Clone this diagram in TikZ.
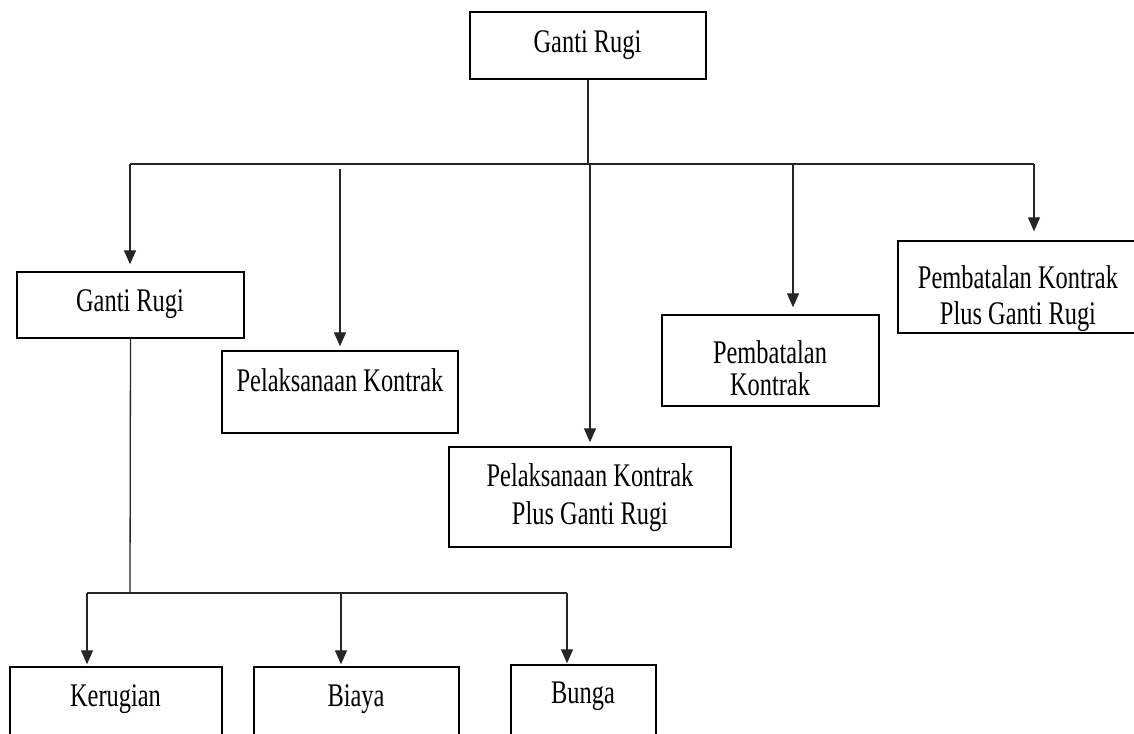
\documentclass[tikz,border=0pt]{standalone}
\usepackage{fontspec}
\setmainfont{Liberation Serif}[FakeStretch=0.74]
\usetikzlibrary{arrows.meta}
\begin{document}
\begin{tikzpicture}[x=0.5pt,y=-0.5pt,
  box/.style={draw, line width=0.7pt, rectangle, inner sep=0pt},
  lbl/.style={inner sep=0pt, align=center, font=\fontsize{16.5}{19}\selectfont},
  conn/.style={line width=0.65pt, draw=black!85},
  arr/.style={conn, -{Triangle[width=6pt,length=7pt]}}]
\useasboundingbox (0,0) rectangle (1134,733);
\clip (0,0) rectangle (1134,733);
\fill[white] (0,0) rectangle (1134,733);
% boxes
\node[box, minimum width=118pt, minimum height=33.5pt] (top) at (588,45.5) {};
\node[box, minimum width=113.5pt, minimum height=33pt] (gr) at (130.5,305) {};
\node[box, minimum width=118pt, minimum height=41pt] (pk) at (340,392) {};
\node[box, minimum width=141pt, minimum height=50pt] (pkp) at (590,497) {};
\node[box, minimum width=108.5pt, minimum height=45.5pt] (pb) at (770.5,360.5) {};
\node[box, minimum width=121pt, minimum height=46pt] (pbp) at (1019,287) {};
\node[box, minimum width=106pt, minimum height=50pt] (ker) at (116,717) {};
\node[box, minimum width=102.5pt, minimum height=50pt] (bia) at (356.5,717) {};
\node[box, minimum width=72.5pt, minimum height=50pt] (bun) at (583.5,715) {};
% texts
\node[lbl] (topT) at (587.5,45) {Ganti Rugi};
\node[lbl] (grT) at (130,304) {Ganti Rugi};
\node[lbl] (pkT) at (340,380) {Pelaksanaan Kontrak};
\node[lbl] (pkpT) at (590,498) {Pelaksanaan Kontrak\\Plus Ganti Rugi};
\node[lbl] (pbT) at (770,368) {Pembatalan\\[-3pt]Kontrak};
\node[lbl] (pbpT) at (1018,299) {Pembatalan Kontrak\\[-1pt]Plus Ganti Rugi};
\node[lbl] (kerT) at (115.5,699) {Kerugian};
\node[lbl] (biaT) at (356,699) {Biaya};
\node[lbl] (bunT) at (583,696) {Bunga};
% upper connectors
\coordinate (j0) at (588,164);
\coordinate (hl) at (130,164);
\coordinate (hr) at (1034,164);
\coordinate (a2) at (340,169);
\coordinate (a3) at (590,164);
\coordinate (a4) at (793,164);
\draw[conn] (top.south) -- (j0);
\draw[conn] (hl) -- (hr);
\draw[arr, shorten >=3.5pt] (hl) -- (hl |- gr.north);
\draw[arr, shorten >=2pt] (a2) -- (a2 |- pk.north);
\draw[arr, shorten >=2pt] (a3) -- (a3 |- pkp.north);
\draw[arr, shorten >=3.5pt] (a4) -- (a4 |- pb.north);
\draw[arr, shorten >=4.5pt] (hr) -- (hr |- pbp.north);
% lower connectors
\coordinate (jb) at (130,593);
\coordinate (bl) at (87,593);
\coordinate (bm) at (341,593);
\coordinate (br) at (567,593);
\draw[conn] (gr.south) -- (jb);
\draw[conn] (bl) -- (br);
\draw[arr, shorten >=1pt] (bl) -- (bl |- ker.north);
\draw[arr, shorten >=1pt] (bm) -- (bm |- bia.north);
\draw[arr, shorten >=0.5pt] (br) -- (br |- bun.north);
\end{tikzpicture}
\end{document}
